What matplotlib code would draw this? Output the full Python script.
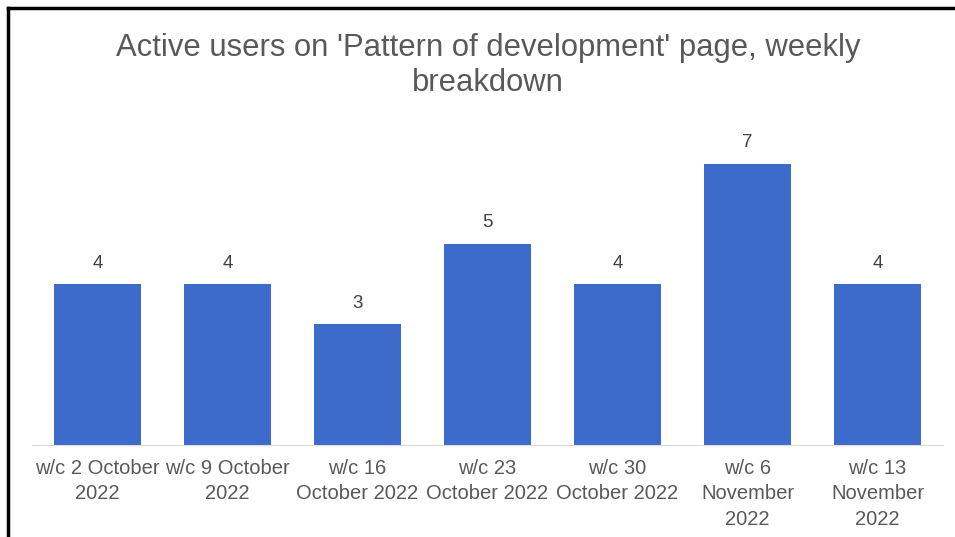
#!/usr/bin/env python3

import numpy as np
import matplotlib
matplotlib.use('Agg')
import matplotlib.pyplot as plt
from matplotlib.lines import Line2D

plt.rcParams['font.family'] = ['Liberation Sans', 'DejaVu Sans']

# chart data
weeks = ['w/c 2 October\n2022', 'w/c 9 October\n2022', 'w/c 16\nOctober 2022',
         'w/c 23\nOctober 2022', 'w/c 30\nOctober 2022', 'w/c 6\nNovember\n2022',
         'w/c 13\nNovember\n2022']
users = [4, 4, 3, 5, 4, 7, 4]
title = "Active users on 'Pattern of development' page, weekly\nbreakdown"

fig = plt.figure(figsize=(9.55, 5.37), dpi=100)
ax = fig.add_axes([0.034, 0.1713, 0.953, 0.599])

x = np.arange(len(weeks))
bars = ax.bar(x, users, width=0.67, color='#3C6BCB')

# value labels above bars
for rect, v in zip(bars, users):
    ax.annotate(str(v), (rect.get_x() + rect.get_width() / 2, v),
                xytext=(0, 9), textcoords='offset points',
                ha='center', va='bottom', fontsize=13.5, color='#404040')

ax.set_xlim(-0.5, len(weeks) - 0.5)
ax.set_ylim(0, 8)
ax.set_xticks(x)
ax.set_xticklabels(weeks, fontsize=14.5, color='#595959', linespacing=1.42)
ax.tick_params(axis='x', length=0, pad=10)
ax.set_yticks([])
for s in ['top', 'right', 'left']:
    ax.spines[s].set_visible(False)
ax.spines['bottom'].set_color('#D9D9D9')

fig.text(0.511, 0.938, title, ha='center', va='top', fontsize=22.3,
         color='#595959', linespacing=1.2)

# border of the original chart frame (left and top edges)
fig.add_artist(Line2D([0.0085, 0.0085], [0, 0.986], transform=fig.transFigure,
                      color='black', lw=2.5))
fig.add_artist(Line2D([0.0085, 1.0], [0.986, 0.986], transform=fig.transFigure,
                      color='black', lw=2.5))

fig.savefig('out.png', dpi=100)
